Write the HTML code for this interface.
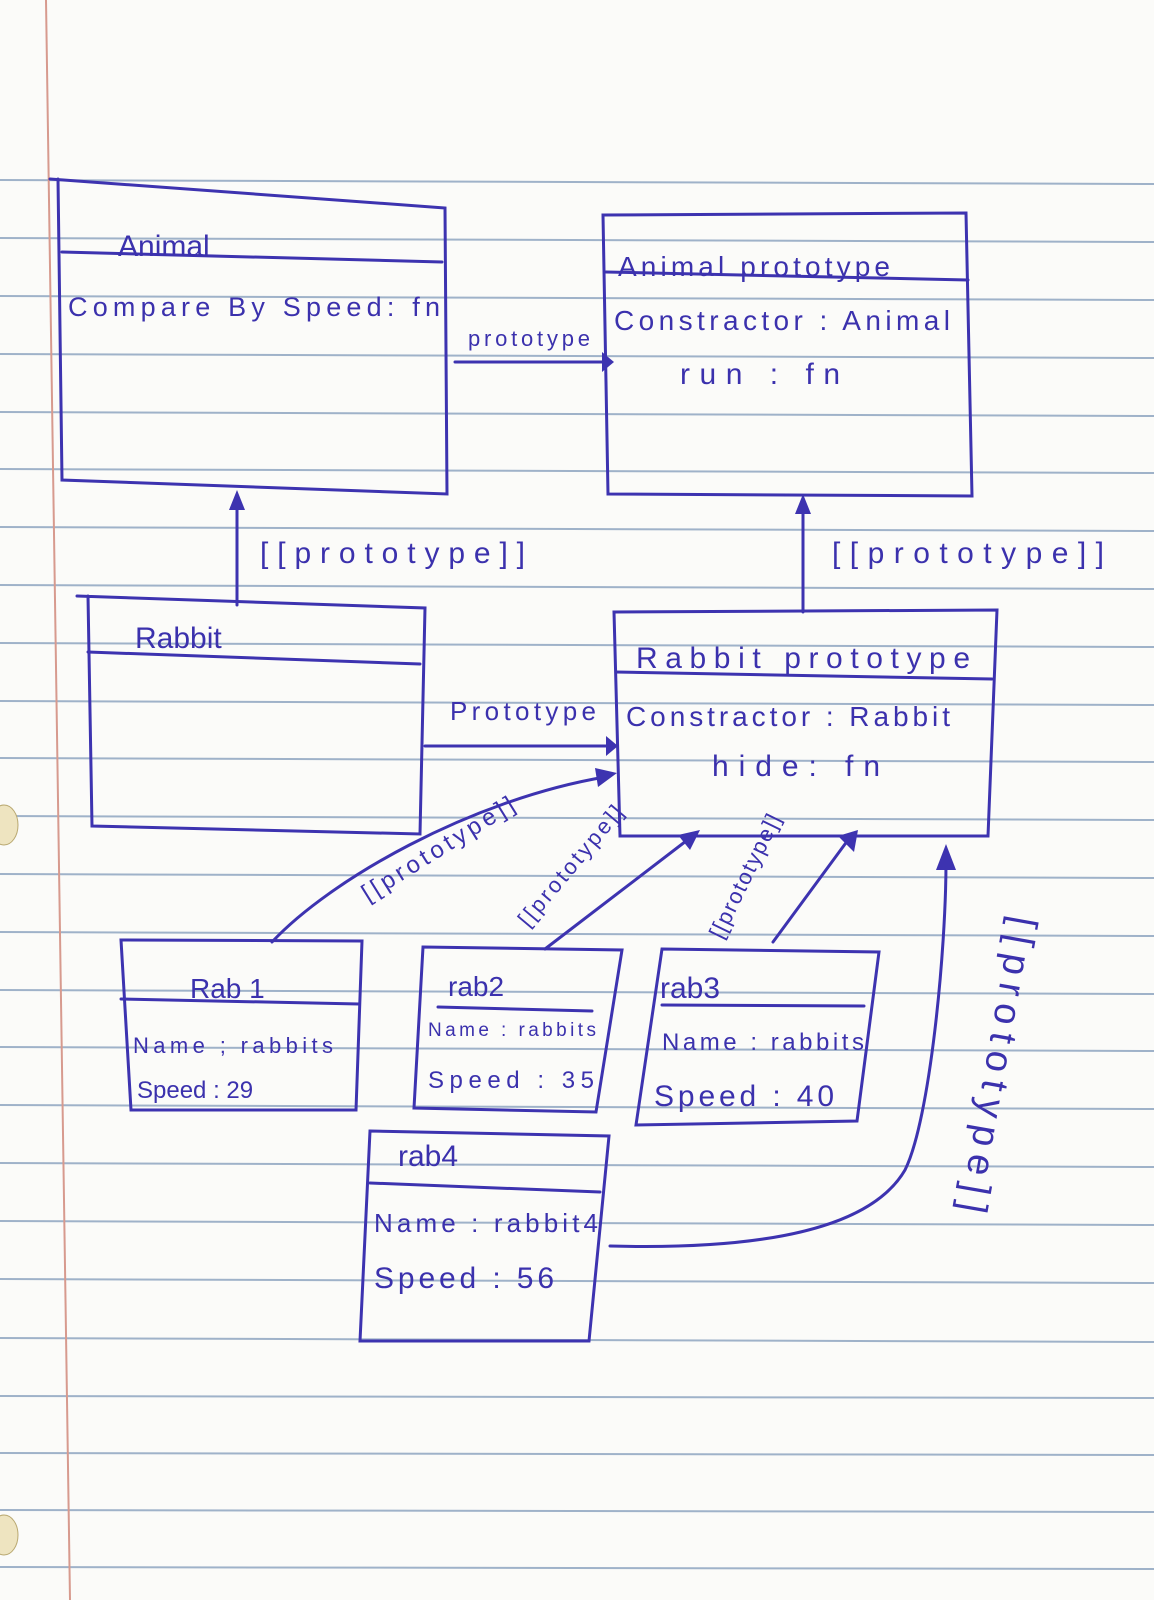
<!DOCTYPE html>
<html><head><meta charset="utf-8"><style>
html,body{margin:0;padding:0;background:#fbfbf9;}
svg{display:block}
text{font-family:"Liberation Sans",sans-serif;fill:#3b31ad;}
</style></head><body>
<svg width="1154" height="1600" viewBox="0 0 1154 1600" xmlns="http://www.w3.org/2000/svg">
<rect width="1154" height="1600" fill="#fbfbf9"/>
<g stroke="#9fb2c9" stroke-width="2">
<line x1="0" y1="180" x2="1154" y2="184"/>
<line x1="0" y1="238" x2="1154" y2="242"/>
<line x1="0" y1="296" x2="1154" y2="300"/>
<line x1="0" y1="354" x2="1154" y2="358"/>
<line x1="0" y1="412" x2="1154" y2="416"/>
<line x1="0" y1="469" x2="1154" y2="473"/>
<line x1="0" y1="527" x2="1154" y2="531"/>
<line x1="0" y1="585" x2="1154" y2="589"/>
<line x1="0" y1="643" x2="1154" y2="647"/>
<line x1="0" y1="701" x2="1154" y2="705"/>
<line x1="0" y1="758" x2="1154" y2="762"/>
<line x1="0" y1="816" x2="1154" y2="820"/>
<line x1="0" y1="874" x2="1154" y2="878"/>
<line x1="0" y1="932" x2="1154" y2="936"/>
<line x1="0" y1="990" x2="1154" y2="994"/>
<line x1="0" y1="1047" x2="1154" y2="1051"/>
<line x1="0" y1="1105" x2="1154" y2="1109"/>
<line x1="0" y1="1163" x2="1154" y2="1167"/>
<line x1="0" y1="1221" x2="1154" y2="1225"/>
<line x1="0" y1="1279" x2="1154" y2="1283"/>
<line x1="0" y1="1338" x2="1154" y2="1342"/>
<line x1="0" y1="1396" x2="1154" y2="1398"/>
<line x1="0" y1="1453" x2="1154" y2="1455"/>
<line x1="0" y1="1510" x2="1154" y2="1512"/>
<line x1="0" y1="1567" x2="1154" y2="1569"/>
</g>
<line x1="46" y1="0" x2="70" y2="1600" stroke="#d79a8e" stroke-width="2"/>
<ellipse cx="4" cy="825" rx="14" ry="20" fill="#eee4c0" stroke="#b9a870"/>
<ellipse cx="4" cy="1535" rx="14" ry="20" fill="#eee4c0" stroke="#b9a870"/>

<g fill="none" stroke="#3d33b0" stroke-width="3" stroke-linecap="round">
<path d="M50 179 L445 208 L447 494 L62 480 L58 179"/>
<path d="M62 252 L442 262"/>
<path d="M603 215 L966 213 L972 496 L608 494 Z"/>
<path d="M606 272 L968 280"/>
<path d="M77 596 L425 608 L420 834 L92 826 L88 596"/>
<path d="M88 652 L420 664"/>
<path d="M614 612 L997 610 L988 836 L620 836 Z"/>
<path d="M616 672 L992 679"/>
<path d="M121 940 L362 941 L356 1110 L131 1110 Z"/>
<path d="M121 999 L359 1004"/>
<path d="M423 947 L622 950 L596 1112 L414 1108 Z"/>
<path d="M438 1007 L592 1011"/>
<path d="M662 949 L879 952 L857 1121 L636 1125 Z"/>
<path d="M662 1005 L864 1006"/>
<path d="M370 1131 L609 1136 L589 1341 L360 1341 Z"/>
<path d="M370 1183 L600 1192"/>
<path d="M455 362 L602 362"/>
<path d="M425 746 L606 746"/>
<path d="M237 605 L237 497"/>
<path d="M803 612 L803 502"/>
<path d="M272 942 C330 880 470 800 605 777"/>
<path d="M545 949 L690 838"/>
<path d="M773 942 L848 840"/>
<path d="M610 1246 C760 1250 870 1230 905 1170 C930 1120 946 950 946 862"/>
</g>
<g fill="#3d33b0">
<polygon points="602,352 614,362 602,372"/>
<polygon points="606,736 618,746 606,756"/>
<polygon points="229,510 237,490 245,510"/>
<polygon points="795,514 803,494 811,514"/>
<polygon points="595,768 617,773 598,787"/>
<polygon points="678,835 700,830 690,850"/>
<polygon points="838,836 858,830 854,852"/>
<polygon points="936,870 946,844 956,870"/>
</g>

<text x="118" y="256" font-size="30">Animal</text>
<text x="68" y="316" font-size="27" textLength="372">Compare By Speed: fn</text>
<text x="618" y="276" font-size="28" textLength="272">Animal prototype</text>
<text x="614" y="330" font-size="28" textLength="336">Constractor : Animal</text>
<text x="680" y="384" font-size="30" textLength="160">run : fn</text>
<text x="468" y="346" font-size="22" textLength="122">prototype</text>
<text x="260" y="563" font-size="30" textLength="265">[[prototype]]</text>
<text x="832" y="563" font-size="30" textLength="272">[[prototype]]</text>
<text x="135" y="648" font-size="30">Rabbit</text>
<text x="636" y="668" font-size="30" textLength="334">Rabbit prototype</text>
<text x="626" y="726" font-size="28" textLength="324">Constractor : Rabbit</text>
<text x="712" y="776" font-size="30" textLength="168">hide: fn</text>
<text x="450" y="720" font-size="26" textLength="146">Prototype</text>
<text x="190" y="998" font-size="28">Rab 1</text>
<text x="133" y="1053" font-size="22" textLength="200">Name ; rabbits</text>
<text x="137" y="1098" font-size="24">Speed : 29</text>
<text x="448" y="996" font-size="28">rab2</text>
<text x="428" y="1036" font-size="19" textLength="168">Name : rabbits</text>
<text x="428" y="1088" font-size="24" textLength="166">Speed : 35</text>
<text x="660" y="998" font-size="30">rab3</text>
<text x="662" y="1050" font-size="24" textLength="202">Name : rabbits</text>
<text x="654" y="1106" font-size="30" textLength="180">Speed : 40</text>
<text x="398" y="1166" font-size="30">rab4</text>
<text x="374" y="1232" font-size="26" textLength="224">Name : rabbit4</text>
<text x="374" y="1288" font-size="30" textLength="180">Speed : 56</text>
<text x="0" y="0" font-size="24" textLength="175" transform="translate(368,902) rotate(-32)">[[prototype]]</text>
<text x="0" y="0" font-size="22" textLength="150" transform="translate(528,928) rotate(-50)">[[prototype]]</text>
<text x="0" y="0" font-size="22" textLength="135" transform="translate(722,940) rotate(-64)">[[prototype]]</text>
<text x="0" y="0" font-size="38" textLength="300" transform="translate(1012,915) rotate(100)">[[prototype]]</text>
</svg>
</body></html>
